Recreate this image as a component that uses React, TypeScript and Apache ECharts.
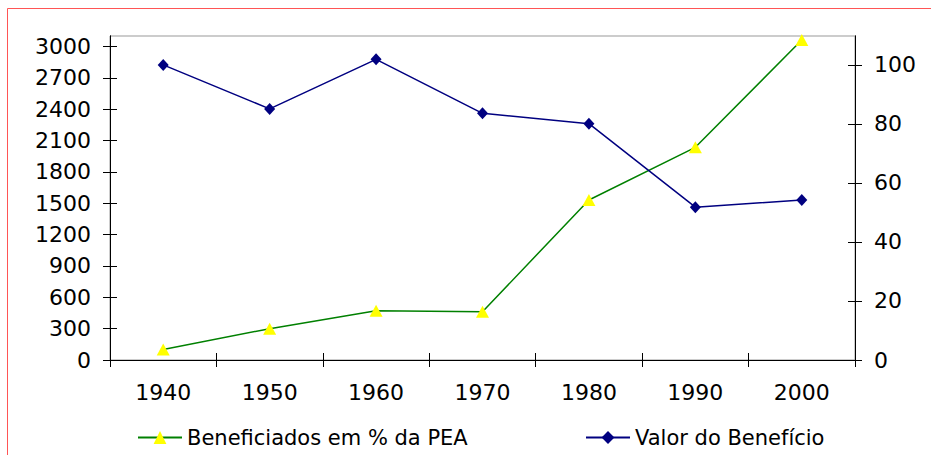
import React, { useEffect, useRef } from "react";
import * as echarts from "echarts";

const years = ["1940", "1950", "1960", "1970", "1980", "1990", "2000"];
const beneficiados = [100, 300, 472, 462, 1532, 2036, 3064];
const valorBeneficio = [100, 85.1, 101.9, 83.6, 80.1, 51.8, 54.2];
const leftTicks = [0, 300, 600, 900, 1200, 1500, 1800, 2100, 2400, 2700, 3000];
const rightTicks = [0, 20, 40, 60, 80, 100];
const leftMax = 3102;
const rightMax = 109.8;

const FONT = "DejaVu Sans";
const FS = 22;

export default function App() {
  const ref = useRef<HTMLDivElement>(null);
  useEffect(() => {
    if (!ref.current) return;
    const chart = echarts.init(ref.current, undefined, { renderer: "svg" });
    const axisLine = { show: true, onZero: false, lineStyle: { color: "#000", width: 1 } };
    const label = { color: "#000", fontFamily: FONT, fontSize: FS };
    const plain = (v: number) => String(v);
    chart.setOption({
      animation: false,
      backgroundColor: "#fff",
      grid: {
        left: 110,
        right: 76,
        top: 36,
        bottom: 95,
        show: true,
        borderColor: "#999",
        borderWidth: 1,
        backgroundColor: "transparent",
      },
      xAxis: [
        {
          type: "category",
          data: years,
          position: "bottom",
          boundaryGap: true,
          axisLine,
          axisTick: { show: true, inside: false, length: 7, interval: 0, lineStyle: { color: "#000" } },
          axisLabel: { ...label, margin: 21, interval: 0 },
          splitLine: { show: false },
        },
        {
          type: "category",
          data: years,
          position: "bottom",
          offset: 0,
          boundaryGap: true,
          axisLine,
          axisTick: { show: true, inside: true, length: 7, interval: 0, lineStyle: { color: "#000" } },
          axisLabel: { show: false },
          splitLine: { show: false },
        },
      ],
      yAxis: [
        {
          type: "value",
          position: "left",
          min: 0,
          max: leftMax,
          axisLine,
          axisTick: { show: true, inside: false, length: 7, customValues: leftTicks, lineStyle: { color: "#000" } },
          axisLabel: { ...label, margin: 19, customValues: leftTicks, formatter: plain },
          splitLine: { show: false },
        },
        {
          type: "value",
          position: "right",
          min: 0,
          max: rightMax,
          axisLine,
          axisTick: { show: true, inside: false, length: 7, customValues: rightTicks, lineStyle: { color: "#000" } },
          axisLabel: { ...label, margin: 19, customValues: rightTicks, formatter: plain },
          splitLine: { show: false },
        },
        {
          type: "value",
          position: "left",
          offset: 0,
          min: 0,
          max: leftMax,
          axisLine,
          axisTick: { show: true, inside: true, length: 7, customValues: leftTicks, lineStyle: { color: "#000" } },
          axisLabel: { show: false, customValues: leftTicks },
          splitLine: { show: false },
        },
        {
          type: "value",
          position: "right",
          offset: 0,
          min: 0,
          max: rightMax,
          axisLine,
          axisTick: { show: true, inside: true, length: 7, customValues: rightTicks, lineStyle: { color: "#000" } },
          axisLabel: { show: false, customValues: rightTicks },
          splitLine: { show: false },
        },
      ],
      legend: [
        {
          data: ["Beneficiados em % da PEA"],
          left: 137,
          top: 427,
          padding: 0,
          itemWidth: 44,
          itemHeight: 16,
          textStyle: { ...label, fontSize: 21 },
        },
        {
          data: ["Valor do Benefício"],
          left: 585,
          top: 427,
          padding: 0,
          itemWidth: 44,
          itemHeight: 16,
          textStyle: { ...label, fontSize: 21 },
        },
      ],
      series: [
        {
          name: "Beneficiados em % da PEA",
          type: "line",
          xAxisIndex: 0,
          yAxisIndex: 0,
          data: beneficiados,
          symbol: "triangle",
          symbolSize: [13, 12],
          lineStyle: { color: "#008000", width: 1.5 },
          itemStyle: { color: "#ffff00", borderWidth: 0 },
          z: 3,
        },
        {
          name: "Valor do Benefício",
          type: "line",
          xAxisIndex: 0,
          yAxisIndex: 1,
          data: valorBeneficio,
          symbol: "diamond",
          symbolSize: [11, 12],
          lineStyle: { color: "#000080", width: 1.5 },
          itemStyle: { color: "#000080", borderWidth: 0 },
          z: 4,
        },
      ],
      graphic: [
        {
          type: "line",
          shape: { x1: 7.5, y1: 8.5, x2: 931, y2: 8.5 },
          style: { stroke: "#ff5555", lineWidth: 1 },
          silent: true,
        },
        {
          type: "line",
          shape: { x1: 7.5, y1: 8.5, x2: 7.5, y2: 455 },
          style: { stroke: "#ff5555", lineWidth: 1 },
          silent: true,
        },
      ],
    });
    return () => chart.dispose();
  }, []);
  return (
    <div
      ref={ref}
      style={{ position: "fixed", left: 0, top: 0, width: 931, height: 455, background: "#fff" }}
    />
  );
}
